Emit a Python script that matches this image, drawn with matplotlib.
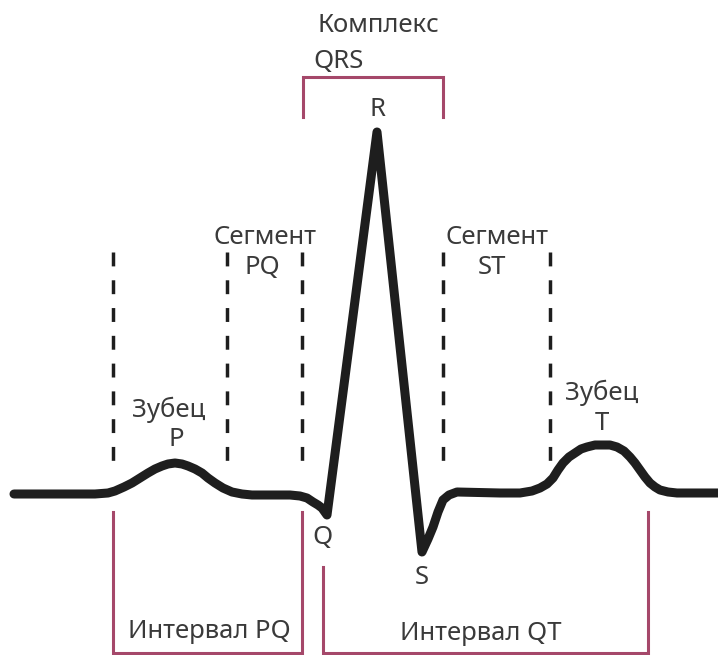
import matplotlib
matplotlib.use('Agg')
import matplotlib.pyplot as plt

# ECG trace (pixel coordinates, y grows downwards)
ecg_x = [14, 95, 108, 115, 124, 132, 140, 148, 155, 162, 168, 175, 182, 188, 195,
         202, 208, 215, 223, 232, 242, 252,
         290, 300, 307, 313, 318, 322, 327, 377, 422, 428, 433, 438, 443, 449, 457, 500,
         520, 532, 540, 547, 553, 558, 563, 569, 575, 581, 587, 595, 603, 610, 617,
         624, 630, 635, 640, 645, 650, 655, 660, 668, 677, 718]
ecg_y = [494, 494, 493, 491, 487, 483, 478, 473, 469, 466, 464, 463, 464, 466, 469,
         473, 478, 483, 488, 492, 494, 495,
         495, 496, 498, 502, 505, 508, 515, 132, 552, 539, 527, 512, 500, 495, 492, 493,
         493, 491, 488, 484, 478, 470, 463, 457, 453, 449, 447, 445, 445, 445, 447,
         451, 457, 463, 470, 477, 483, 487, 490, 492, 493, 493]

# dashed guide lines
dash_x = [113, 227, 302, 443, 550]
dash_top = 252
dash_bottom = 463

# brackets: (left x, right x, left top, right top, base y)
qrs_bracket = (303, 443, 117, 117, 77)
pq_bracket = (113, 302, 512, 512, 653)
qt_bracket = (323, 648, 567, 512, 653)

labels = [
    ('Комплекс', 378, 25), ('QRS', 339, 62), ('R', 377, 110),
    ('Сегмент', 265, 237), ('PQ', 262, 267),
    ('Сегмент', 497, 237), ('ST', 492, 267),
    ('Зубец', 169, 410), ('P', 176, 439),
    ('Зубец', 602, 393), ('T', 602, 424),
    ('Q', 323, 537), ('S', 422, 578),
    ('Интервал PQ', 209, 632), ('Интервал QT', 481, 633),
]

line_col = '#1e1e1e'
brk_col = '#a5486a'
txt_col = '#3a3a3a'

fig = plt.figure(figsize=(7.18, 6.55), dpi=100)
ax = fig.add_axes([0, 0, 1, 1])
ax.set_xlim(0, 718)
ax.set_ylim(655, 0)
ax.axis('off')

for x in dash_x:
    ax.plot([x, x], [dash_top, dash_bottom], color=line_col, lw=2.5,
            linestyle=(0, (4, 4)), solid_capstyle='butt')

for xl, xr, yl, yr, yb in [qrs_bracket, pq_bracket, qt_bracket]:
    ax.plot([xl, xl, xr, xr], [yl, yb, yb, yr], color=brk_col, lw=2.2,
            solid_joinstyle='miter')

ax.plot(ecg_x, ecg_y, color=line_col, lw=6.5, solid_joinstyle='round',
        solid_capstyle='round')

for s, x, y in labels:
    ax.text(x, y, s, ha='center', va='center', fontsize=18.5,
            family='Noto Sans', color=txt_col)

fig.savefig('out.png', dpi=100, facecolor='white')
